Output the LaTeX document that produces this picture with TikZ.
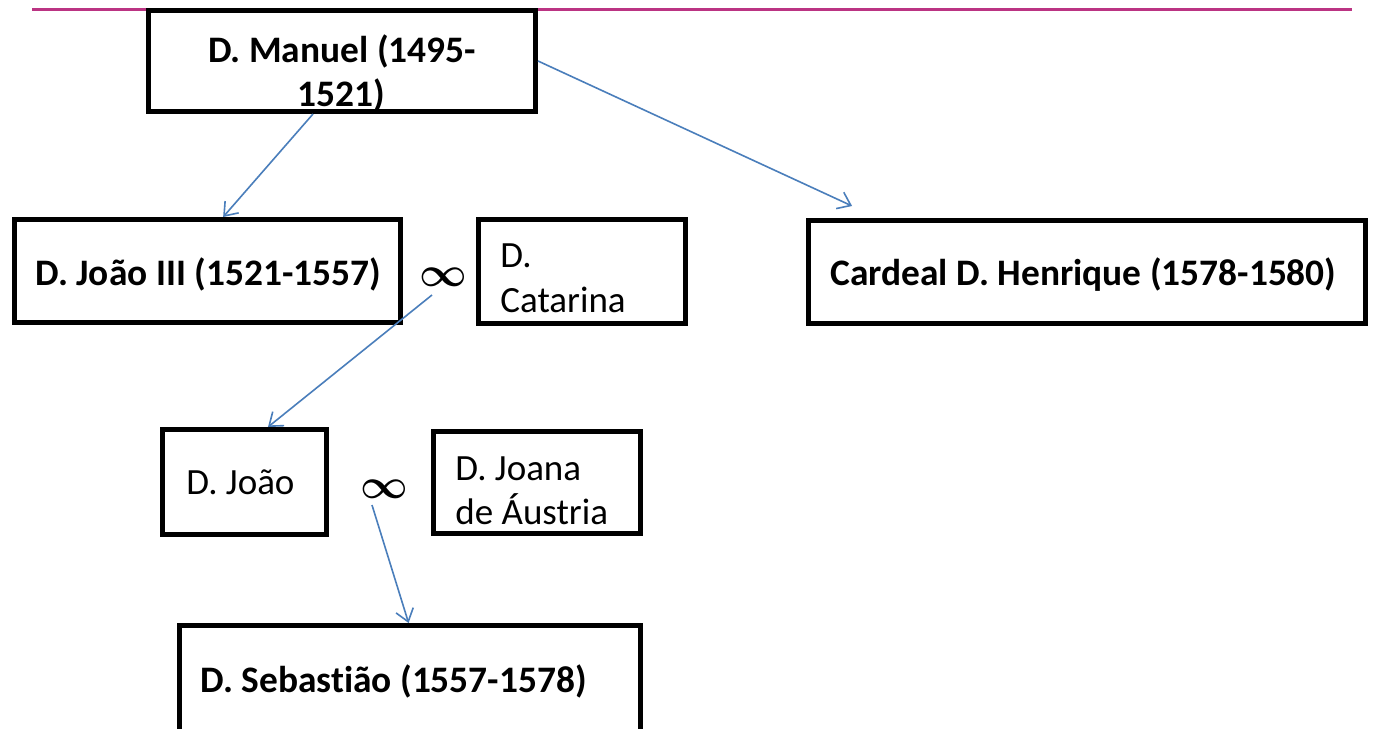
\documentclass[tikz,border=0pt]{standalone}
\usepackage{fontspec}
\setmainfont{Carlito}[Ligatures=NoCommon]
\usetikzlibrary{arrows.meta,calc}
\definecolor{linkblue}{RGB}{74,126,187}
\definecolor{rulemag}{RGB}{187,52,131}
\begin{document}
\begin{tikzpicture}[x=0.5pt,y=-0.5pt,
  every node/.style={inner sep=0pt},
  famb/.style={draw=black, line width=2.5pt, fill=white, rectangle},
  lbl/.style={font=\fontsize{18.5pt}{22.5pt}\selectfont, anchor=base west},
  blbl/.style={font=\fontsize{18.7pt}{22.5pt}\selectfont\bfseries, anchor=base west},
  link/.style={draw=linkblue, line width=0.8pt, -{Straight Barb[length=6pt,width=9pt]}},
  inf/.style={font=\fontsize{19.5pt}{20pt}\selectfont\boldmath}
]
\useasboundingbox (0,0) rectangle (1383,729);
\clip (0,0) rectangle (1383,729);
\fill[white] (0,0) rectangle (1383,729);

% top rule
\coordinate (r1) at (32,9);
\coordinate (r2) at (1352,9);
\draw[rulemag, line width=1.5pt] (r1) -- (r2);

% boxes
\node[famb, minimum width=193.5pt, minimum height=50.5pt] (manuel) at (342,61) {};
\node[famb, minimum width=193pt, minimum height=51.5pt] (joao3) at (207.5,271) {};
\node[famb, minimum width=103.5pt, minimum height=52pt] (catarina) at (582,271.5) {};
\node[famb, minimum width=278.5pt, minimum height=51.5pt] (henrique) at (1087,272) {};
\node[famb, minimum width=82pt, minimum height=52.5pt] (djoao) at (244.5,482) {};
\node[famb, minimum width=103.5pt, minimum height=51pt] (joana) at (537,482.5) {};
\node[famb, minimum width=230.5pt, minimum height=53.5pt] (sebastiao) at (410,679) {};

% texts
\node[blbl, anchor=base] (manuelA) at (342,62) {D. Manuel (1495-};
\node[blbl, anchor=base] (manuelB) at (341,106) {1521)};
\node[blbl] (joao3t) at (35,285) {D. João III (1521-1557)};
\node[lbl] (catA) at (500,267) {D.};
\node[lbl] (catB) at (500,312) {Catarina};
\node[blbl] (henT) at (830,285) {Cardeal D. Henrique (1578-1580)};
\node[lbl] (djoaoT) at (186,494) {D. João};
\node[lbl] (joanaA) at (455,480) {D. Joana};
\node[lbl] (joanaB) at (455,524) {de Áustria};
\node[blbl] (sebT) at (200,692) {D. Sebastião (1557-1578)};

% marriage symbols
\node[inf] (inf1) at (443,277) {$\infty$};
\node[inf] (inf2) at (384,489) {$\infty$};
\coordinate (m1) at (432,295);
\coordinate (m2) at (372,505);

% connectors
\draw[link] ($(manuel.south west)!0.426!(manuel.south east)$) -- ($(joao3.north west)!0.540!(joao3.north east)$);
\draw[link] (manuel.east) -- ($(henrique.north west)!0.082!(henrique.north east)+(0,-12)$);
\draw[link] (m1) -- ($(djoao.north west)!0.639!(djoao.north east)$);
\draw[link] (m2) -- ($(sebastiao.north west)!0.497!(sebastiao.north east)$);
\end{tikzpicture}
\end{document}
